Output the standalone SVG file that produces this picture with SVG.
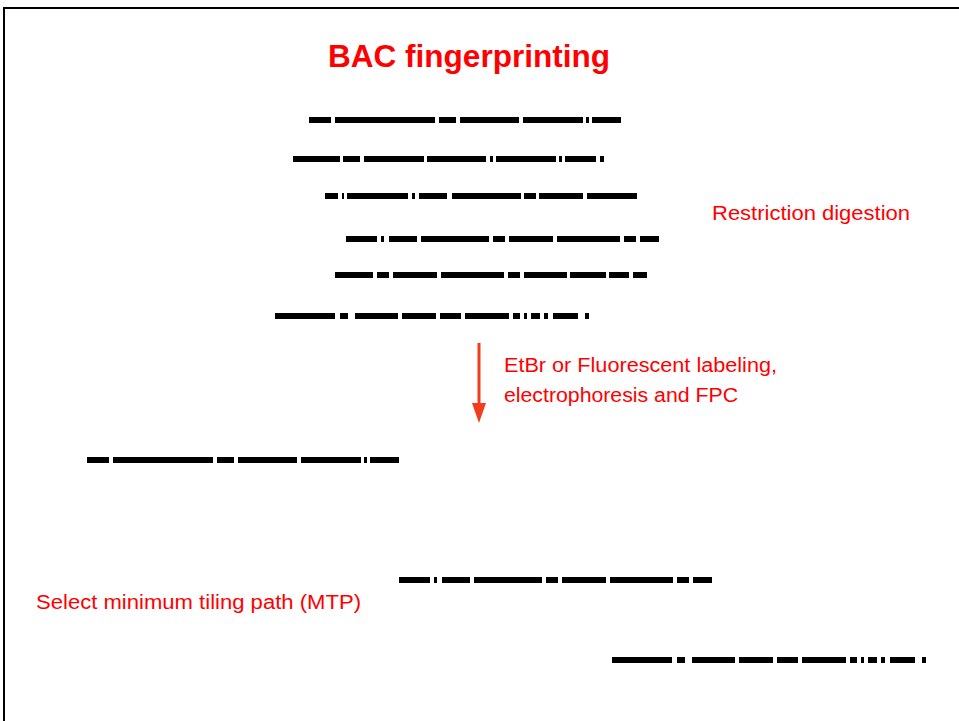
<svg xmlns="http://www.w3.org/2000/svg" xmlns:xlink="http://www.w3.org/1999/xlink" width="959" height="721" viewBox="0 0 959 721">
<style>
.bar rect{fill:#000}
.lbl{font-family:"Liberation Sans",Arial,sans-serif;fill:#ff0000;font-size:19.5px}
.title{font-family:"Liberation Sans",Arial,sans-serif;fill:#ff0000;font-size:32px;font-weight:bold}
.frame{fill:none;stroke:#000;stroke-width:2}
.arrow{stroke:#f23c1c;stroke-width:3;fill:none}
</style>
<defs>
<g id="patA" class="bar"><rect x="0" y="0" width="22" height="6"/><rect x="26" y="0" width="100" height="6"/><rect x="130" y="0" width="17" height="6"/><rect x="151" y="0" width="59" height="6"/><rect x="214" y="0" width="60" height="6"/><rect x="277" y="0" width="3" height="6"/><rect x="283" y="0" width="29" height="6"/></g>
<g id="patB" class="bar"><rect x="0" y="0" width="31" height="6"/><rect x="35" y="0" width="3" height="6"/><rect x="43" y="0" width="28" height="6"/><rect x="75" y="0" width="68" height="6"/><rect x="147" y="0" width="12" height="6"/><rect x="163" y="0" width="44" height="6"/><rect x="211" y="0" width="63" height="6"/><rect x="278" y="0" width="12" height="6"/><rect x="294" y="0" width="19" height="6"/></g>
<g id="patC" class="bar"><rect x="0" y="0" width="60" height="6"/><rect x="65" y="0" width="8" height="6"/><rect x="80" y="0" width="43" height="6"/><rect x="127" y="0" width="34" height="6"/><rect x="165" y="0" width="21" height="6"/><rect x="190" y="0" width="44" height="6"/><rect x="238" y="0" width="7" height="6"/><rect x="249" y="0" width="3" height="6"/><rect x="256" y="0" width="9" height="6"/><rect x="269" y="0" width="4" height="6"/><rect x="278" y="0" width="25" height="6"/><rect x="310" y="0" width="4" height="6"/></g>
</defs>
<rect width="959" height="721" fill="#fff"/>
<path class="frame" d="M4,721 V8 H959"/>
<g id="title"><text class="title" x="469" y="67" text-anchor="middle" textLength="282" lengthAdjust="spacingAndGlyphs">BAC fingerprinting</text></g>
<g id="bac1"><use xlink:href="#patA" href="#patA" x="309" y="117"/></g>
<g id="bac2" class="bar"><rect x="293" y="156" width="47" height="6"/><rect x="343" y="156" width="17" height="6"/><rect x="364" y="156" width="60" height="6"/><rect x="427" y="156" width="59" height="6"/><rect x="490" y="156" width="3" height="6"/><rect x="496" y="156" width="60" height="6"/><rect x="559" y="156" width="3" height="6"/><rect x="565" y="156" width="31" height="6"/><rect x="600" y="156" width="4" height="6"/></g>
<g id="bac3" class="bar"><rect x="325" y="193" width="13" height="6"/><rect x="342" y="193" width="2" height="6"/><rect x="347" y="193" width="61" height="6"/><rect x="412" y="193" width="3" height="6"/><rect x="419" y="193" width="28" height="6"/><rect x="452" y="193" width="69" height="6"/><rect x="524" y="193" width="12" height="6"/><rect x="539" y="193" width="44" height="6"/><rect x="587" y="193" width="50" height="6"/></g>
<g id="bac4"><use xlink:href="#patB" href="#patB" x="346" y="236"/></g>
<g id="bac5" class="bar"><rect x="335" y="272" width="38" height="6"/><rect x="377" y="272" width="12" height="6"/><rect x="393" y="272" width="44" height="6"/><rect x="441" y="272" width="63" height="6"/><rect x="508" y="272" width="12" height="6"/><rect x="524" y="272" width="43" height="6"/><rect x="570" y="272" width="36" height="6"/><rect x="609" y="272" width="20" height="6"/><rect x="633" y="272" width="14" height="6"/></g>
<g id="bac6"><use xlink:href="#patC" href="#patC" x="275" y="313"/></g>
<g id="restriction"><text class="lbl" x="712" y="220" textLength="198" lengthAdjust="spacingAndGlyphs">Restriction digestion</text></g>
<g id="labeling"><text class="lbl" x="504" y="372" textLength="273" lengthAdjust="spacingAndGlyphs">EtBr or Fluorescent labeling,</text><text class="lbl" x="504" y="402" textLength="234" lengthAdjust="spacingAndGlyphs">electrophoresis and FPC</text></g>
<g id="mtp1"><use xlink:href="#patA" href="#patA" x="87" y="457"/></g>
<g id="mtp2"><use xlink:href="#patB" href="#patB" x="399" y="577"/></g>
<g id="mtp3"><use xlink:href="#patC" href="#patC" x="612" y="657"/></g>
<g id="mtp-label"><text class="lbl" x="36" y="609" textLength="325" lengthAdjust="spacingAndGlyphs">Select minimum tiling path (MTP)</text></g>
<g id="connectors"><line class="arrow" x1="479" y1="343" x2="479" y2="405"/><path d="M472,403 L486,403 L479,423 Z" fill="#f23c1c"/></g>
</svg>
